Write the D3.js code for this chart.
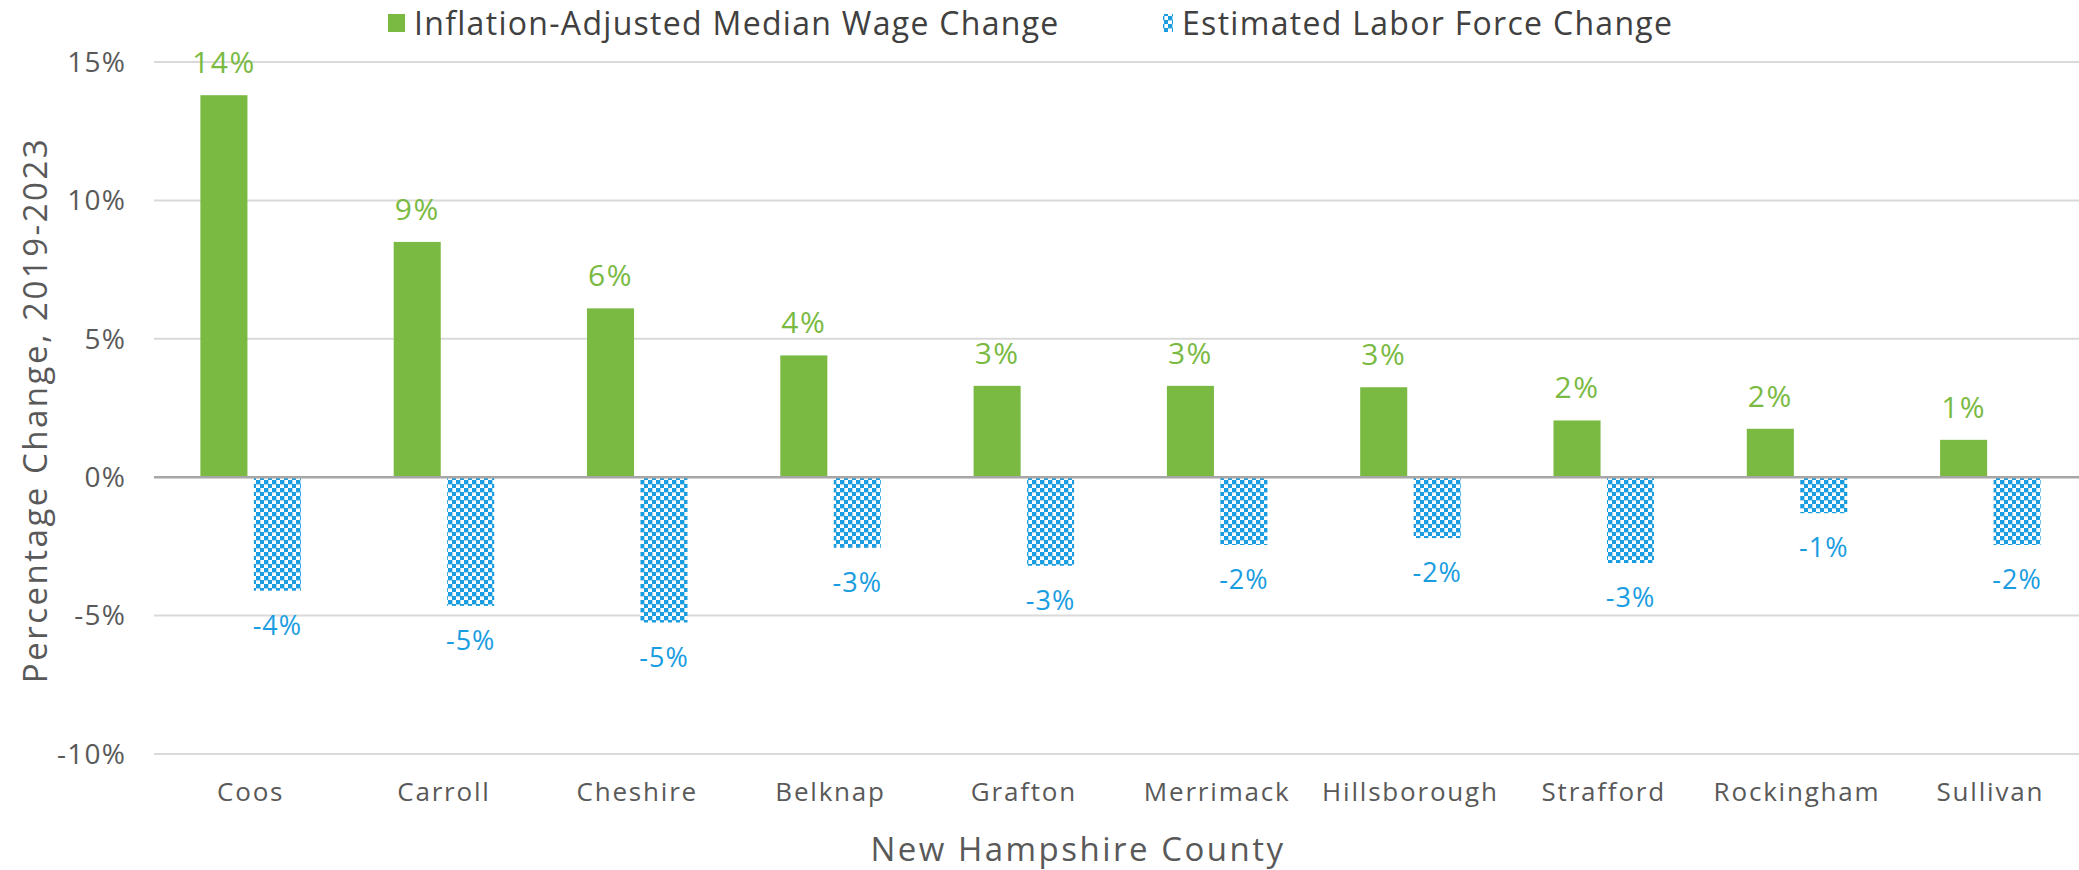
<!DOCTYPE html>
<html lang="en">
<head>
<meta charset="UTF-8">
<title>Wage vs Labor Force Change</title>
<script src="https://d3js.org/d3.v7.min.js"></script>
<style>
  body { margin: 0; background: #fff; }
  text { font-family: "Open Sans", Lato, sans-serif; }
</style>
</head>
<body>
<svg width="2079" height="870"></svg>
<script>
// counties, ordered as in the chart
const counties = ["Coos", "Carroll", "Cheshire", "Belknap", "Grafton", "Merrimack",
                  "Hillsborough", "Strafford", "Rockingham", "Sullivan"];
const wageChange = [13.8, 8.5, 6.1, 4.4, 3.3, 3.3, 3.25, 2.05, 1.75, 1.35];
const laborChange = [-4.1, -4.65, -5.25, -2.55, -3.2, -2.45, -2.2, -3.1, -1.3, -2.45];
const yTicks = [-10, -5, 0, 5, 10, 15];
const seriesNames = ["Inflation-Adjusted Median Wage Change", "Estimated Labor Force Change"];

const green = "#7aba43", blue = "#1a9de0", grey = "#595959";
const svg = d3.select("svg");

// checker pattern for labor bars
const defs = svg.append("defs");
const pat = defs.append("pattern")
    .attr("id", "checker")
    .attr("patternUnits", "userSpaceOnUse")
    .attr("width", 8).attr("height", 8);
pat.append("rect").attr("width", 8).attr("height", 8).attr("fill", "#fff");
pat.append("rect").attr("width", 4.4).attr("height", 4.4).attr("fill", blue);
pat.append("rect").attr("x", 4).attr("y", 4).attr("width", 4.4).attr("height", 4.4).attr("fill", blue);

const x = d3.scaleBand().domain(counties).range([154, 2087]).paddingInner(0.48).paddingOuter(0.24);
const xSub = d3.scaleBand().domain([0, 1]).range([0, x.bandwidth()]).paddingInner(0.12);
const y = d3.scaleLinear().domain([-10, 15]).range([754, 62]);

// gridlines
svg.append("g").selectAll("line")
  .data(yTicks.filter(d => d !== 0))
  .join("line")
    .attr("x1", 154).attr("x2", 2079)
    .attr("y1", d => y(d)).attr("y2", d => y(d))
    .attr("stroke", "#d9d9d9").attr("stroke-width", 2);

// y axis labels
svg.append("g").selectAll("text")
  .data(yTicks)
  .join("text")
    .attr("x", 126).attr("y", d => y(d))
    .attr("dy", "0.35em")
    .attr("text-anchor", "end")
    .attr("font-size", 28).attr("letter-spacing", 1.2).attr("fill", grey)
    .text(d => d + "%");

const rows = counties.map((c, i) => ({ c, w: wageChange[i], l: laborChange[i] }));

// wage bars
svg.append("g").selectAll("rect")
  .data(rows)
  .join("rect")
    .attr("x", d => x(d.c) + xSub(0))
    .attr("width", xSub.bandwidth())
    .attr("y", d => y(d.w))
    .attr("height", d => y(0) - y(d.w))
    .attr("fill", green);

// labor bars
svg.append("g").selectAll("rect")
  .data(rows)
  .join("rect")
    .attr("x", d => x(d.c) + xSub(1))
    .attr("width", xSub.bandwidth())
    .attr("y", y(0))
    .attr("height", d => y(d.l) - y(0))
    .attr("fill", "url(#checker)");

// zero line
svg.append("line")
  .attr("x1", 154).attr("x2", 2079)
  .attr("y1", y(0)).attr("y2", y(0))
  .attr("stroke", "#a6a6a6").attr("stroke-width", 2.5);

// data labels
svg.append("g").selectAll("text")
  .data(rows)
  .join("text")
    .attr("x", d => x(d.c) + xSub(0) + xSub.bandwidth() / 2)
    .attr("y", d => y(d.w) - 22)
    .attr("text-anchor", "middle")
    .attr("font-size", 30).attr("letter-spacing", 1.5).attr("fill", green)
    .text(d => Math.round(d.w) + "%");

svg.append("g").selectAll("text")
  .data(rows)
  .join("text")
    .attr("x", d => x(d.c) + xSub(1) + xSub.bandwidth() / 2)
    .attr("y", d => y(d.l) + 44)
    .attr("text-anchor", "middle")
    .attr("font-size", 27).attr("letter-spacing", 1).attr("fill", blue)
    .text(d => Math.round(d.l) + "%");

// category labels
svg.append("g").selectAll("text")
  .data(counties)
  .join("text")
    .attr("x", d => x(d) + x.bandwidth() / 2)
    .attr("y", 801)
    .attr("text-anchor", "middle")
    .attr("font-size", 26).attr("letter-spacing", 1.8).attr("fill", grey)
    .text(d => d);

// axis titles
svg.append("text")
  .attr("x", 1078).attr("y", 861)
  .attr("text-anchor", "middle")
  .attr("font-size", 33).attr("letter-spacing", 2.5).attr("fill", grey)
  .text("New Hampshire County");

svg.append("text")
  .attr("transform", "translate(47,410) rotate(-90)")
  .attr("text-anchor", "middle")
  .attr("font-size", 33).attr("letter-spacing", 2.5).attr("fill", grey)
  .text("Percentage Change, 2019-2023");

// legend
const legend = svg.append("g");
legend.append("rect").attr("x", 388).attr("y", 14).attr("width", 17).attr("height", 18).attr("fill", green);
legend.append("text").attr("x", 414).attr("y", 24).attr("dy", "0.35em")
  .attr("font-size", 32).attr("letter-spacing", 1.3).attr("fill", "#404040").text(seriesNames[0]);
legend.append("rect").attr("x", 1163).attr("y", 14).attr("width", 10).attr("height", 18).attr("fill", "url(#checker)");
legend.append("text").attr("x", 1182).attr("y", 24).attr("dy", "0.35em")
  .attr("font-size", 32).attr("letter-spacing", 1.3).attr("fill", "#404040").text(seriesNames[1]);
</script>
</body>
</html>
